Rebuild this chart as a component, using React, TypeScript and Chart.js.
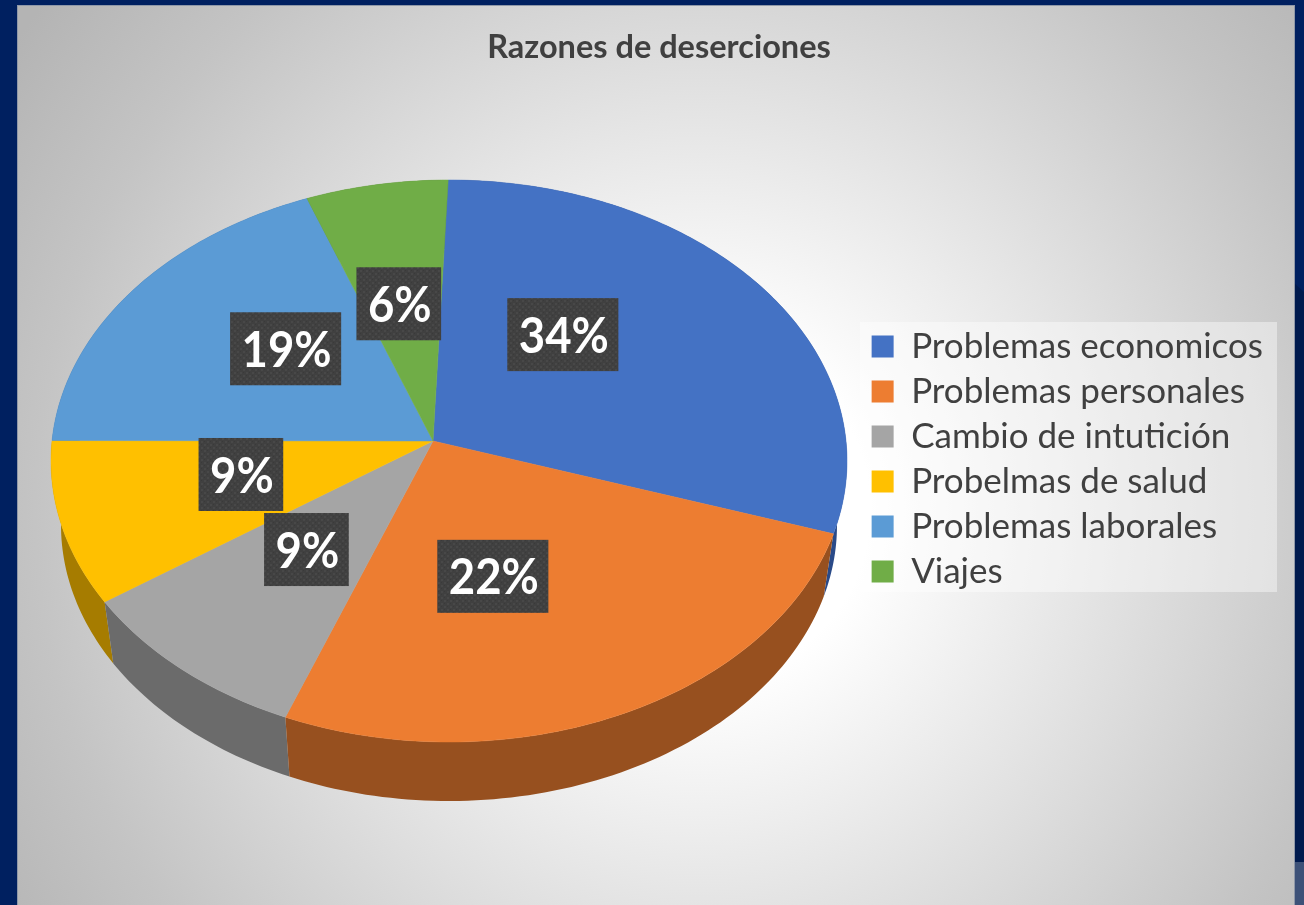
import React, { useEffect, useRef } from "react";
import { Chart, registerables } from "chart.js";

Chart.register(...registerables);

const categories = ["Problemas economicos", "Problemas personales", "Cambio de intutición", "Probelmas de salud", "Problemas laborales", "Viajes"];
const percentages = [34, 22, 9, 9, 19, 6];
const topColors = ["#4472c4", "#ed7d31", "#a5a5a5", "#ffc000", "#5b9bd5", "#70ad47"];
const wallColors = ["#2a4a88", "#97501f", "#6b6b6b", "#a67c00", "#3b6a94", "#4a7530"];
const titleText = "Razones de deserciones";

const TOP = { cx: 449, cy: 461, rx: 398, ry: 281 };
const BOTTOM = { cx: 449, cy: 525, rx: 388, ry: 276 };
const APEX = { x: 433, y: 441 };
const ROTATION = 3.24;
const LABEL_SHIFT = [-16, 9.5, 1.9, 4.1, 5, -1.6];
const FONT = "Lato";
const WARP = [
  { at: 126, amp: 18.6, width: 71 },
  { at: 245, amp: 3, width: 40 },
  { at: 341, amp: 1.3, width: 12 },
];

const warpDeg = (deg: number) => {
  const m = ((deg % 360) + 360) % 360;
  let out = deg;
  WARP.forEach(({ at, amp, width }) => {
    let d = Math.abs(m - at);
    d = Math.min(d, 360 - d);
    out -= amp * Math.exp(-((d / width) ** 2));
  });
  return out;
};

const toScreenDeg = (a: number) => warpDeg((a * 180) / Math.PI + 90);

const boost = (qx: number, qy: number) => {
  const px = (APEX.x - TOP.cx) / TOP.rx;
  const py = (APEX.y - TOP.cy) / TOP.ry;
  const len = Math.hypot(px, py);
  const ux = px / len;
  const uy = py / len;
  const g = 1 / Math.sqrt(1 - len * len);
  const dot = qx * ux + qy * uy;
  const parX = ux * dot;
  const parY = uy * dot;
  const den = 1 + px * qx + py * qy;
  return { x: (px + parX + (qx - parX) / g) / den, y: (py + parY + (qy - parY) / g) / den };
};

const rimNorm = (a: number) => {
  const t = ((toScreenDeg(a) - 90) * Math.PI) / 180;
  return boost(Math.cos(t), Math.sin(t));
};

const sampleAngles = (s: number, e: number) => {
  const n = Math.max(8, Math.ceil(((e - s) * 180) / Math.PI));
  const out: number[] = [];
  for (let i = 0; i <= n; i++) out.push(s + ((e - s) * i) / n);
  return out;
};

const makePattern = (ctx: CanvasRenderingContext2D) => {
  const c = document.createElement("canvas");
  c.width = 6;
  c.height = 6;
  const g = c.getContext("2d")!;
  g.fillStyle = "#404040";
  g.fillRect(0, 0, 6, 6);
  g.fillStyle = "#484848";
  g.fillRect(0, 0, 2, 2);
  g.fillRect(3, 3, 2, 2);
  g.fillStyle = "#3a3a3a";
  g.fillRect(3, 0, 1, 1);
  g.fillRect(0, 3, 1, 1);
  return ctx.createPattern(c, "repeat")!;
};

const backdrop = {
  id: "backdrop",
  beforeDraw(chart: any) {
    const { ctx, width, height } = chart;
    ctx.save();
    ctx.fillStyle = "#002060";
    ctx.fillRect(0, 0, width, height);
    ctx.fillStyle = "#001a4e";
    ctx.beginPath();
    ctx.moveTo(1294, 283);
    ctx.lineTo(1304, 292);
    ctx.lineTo(1304, 862);
    ctx.lineTo(1294, 862);
    ctx.fill();
    ctx.fillStyle = "#3d5178";
    ctx.fillRect(1294, 862, 10, 43);
    ctx.fillStyle = "#8f98a8";
    ctx.fillRect(17, 5, 1278, 900);
    const grad = ctx.createRadialGradient(700, 510, 170, 700, 510, 830);
    grad.addColorStop(0, "#ffffff");
    grad.addColorStop(0.75, "#c4c4c4");
    grad.addColorStop(1, "#b4b4b4");
    ctx.fillStyle = grad;
    ctx.fillRect(18, 6, 1276, 899);
    ctx.fillStyle = "rgba(255,255,255,0.42)";
    ctx.fillRect(860, 322, 417, 270);
    ctx.restore();
  },
};

const pie3d = {
  id: "pie3d",
  beforeDatasetsDraw(chart: any) {
    const { ctx } = chart;
    const arcs = chart.getDatasetMeta(0).data;
    const order = arcs
      .map((a: any, i: number) => ({ i, s: Math.sin((a.startAngle + a.endAngle) / 2) }))
      .sort((p: any, q: any) => p.s - q.s);
    ctx.save();
    order.forEach(({ i }: any) => {
      const arc = arcs[i];
      const pts = sampleAngles(arc.startAngle, arc.endAngle).map(rimNorm);
      ctx.beginPath();
      pts.forEach((n: any, k: number) => {
        const x = TOP.cx + TOP.rx * n.x;
        const y = TOP.cy + TOP.ry * n.y;
        k ? ctx.lineTo(x, y) : ctx.moveTo(x, y);
      });
      [...pts].reverse().forEach((n: any) => ctx.lineTo(BOTTOM.cx + BOTTOM.rx * n.x, BOTTOM.cy + BOTTOM.ry * n.y));
      ctx.closePath();
      ctx.fillStyle = wallColors[i];
      ctx.fill();
    });
    arcs.forEach((arc: any, i: number) => {
      const pts = sampleAngles(arc.startAngle, arc.endAngle).map(rimNorm);
      ctx.beginPath();
      ctx.moveTo(APEX.x, APEX.y);
      pts.forEach((n: any) => ctx.lineTo(TOP.cx + TOP.rx * n.x, TOP.cy + TOP.ry * n.y));
      ctx.closePath();
      ctx.fillStyle = topColors[i];
      ctx.strokeStyle = topColors[i];
      ctx.lineWidth = 0.5;
      ctx.fill();
      ctx.stroke();
    });
    const pattern = makePattern(ctx);
    ctx.font = `bold 50px ${FONT}`;
    ctx.textAlign = "center";
    ctx.textBaseline = "middle";
    arcs.forEach((arc: any, i: number) => {
      const deg = toScreenDeg((arc.startAngle + arc.endAngle) / 2) + LABEL_SHIFT[i];
      const t = ((deg - 90) * Math.PI) / 180;
      const x = APEX.x + 0.5 * TOP.rx * Math.cos(t) + 1.5;
      const y = APEX.y + 0.5 * TOP.ry * Math.sin(t) + 1;
      const text = `${percentages[i]}%`;
      const tw = ctx.measureText(text).width * 0.91;
      const w = tw + 21;
      ctx.fillStyle = pattern;
      ctx.fillRect(x - w / 2, y - 36.5, w, 73);
      ctx.fillStyle = "#ffffff";
      ctx.fillText(text, x + 1, y + 2, tw);
    });
    ctx.restore();
    return false;
  },
};

export default function App() {
  const ref = useRef<HTMLCanvasElement>(null);
  useEffect(() => {
    const chart = new Chart(ref.current!, {
      type: "pie",
      data: {
        labels: categories,
        datasets: [{ data: percentages, backgroundColor: topColors, borderWidth: 0 }],
      },
      options: {
        responsive: false,
        animation: false,
        rotation: ROTATION,
        layout: { padding: { left: 45, right: 31, top: 20, bottom: 7 } },
        plugins: {
          tooltip: { enabled: false },
          title: {
            display: true,
            text: titleText,
            color: "#404040",
            font: { family: FONT, size: 32.5, weight: "bold" },
            padding: { top: 8, bottom: 8 },
          },
          legend: {
            position: "right",
            labels: {
              boxWidth: 22,
              boxHeight: 22,
              padding: 10,
              color: "#404040",
              font: { family: FONT, size: 35 },
            },
          },
        },
      },
      plugins: [backdrop, pie3d],
    } as any);
    return () => chart.destroy();
  }, []);
  return (
    <div style={{ position: "fixed", left: 0, top: 0, width: 1304, height: 905, overflow: "hidden" }}>
      <canvas ref={ref} width={1304} height={905} style={{ display: "block" }} />
    </div>
  );
}
